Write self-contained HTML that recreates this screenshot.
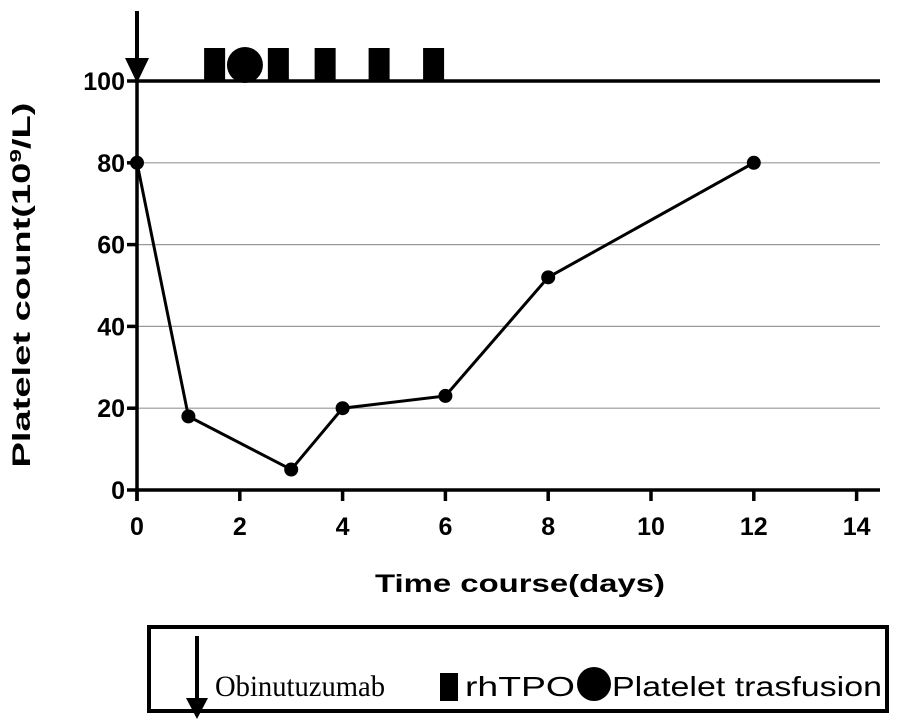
<!DOCTYPE html>
<html><head><meta charset="utf-8"><style>
body{margin:0;background:#fff}
svg{display:block;font-family:"Liberation Sans",Arial,sans-serif}
</style></head><body>
<svg width="915" height="721" viewBox="0 0 915 721">
<g id="grid"></g>
<g id="axes"></g>
<g id="series"></g>
<g id="events"></g>
<text x="30" y="285" transform="rotate(-90 30 285)" text-anchor="middle" font-size="25" font-weight="bold" textLength="365" lengthAdjust="spacingAndGlyphs">Platelet count(10<tspan dy="-9" font-size="16">9</tspan><tspan dy="9">/L)</tspan></text>
<text x="520" y="592" text-anchor="middle" font-size="25" font-weight="bold" textLength="290" lengthAdjust="spacingAndGlyphs">Time course(days)</text>
<g>
<rect x="149" y="627" width="738" height="84" fill="none" stroke="#000" stroke-width="4"/>
<g>
<line x1="197" y1="636" x2="197" y2="700" stroke="#000" stroke-width="4"/>
<polygon points="186,698 208,698 197,719" fill="#000"/>
<text x="215" y="696" font-family="Liberation Serif,serif" font-size="30" textLength="170" lengthAdjust="spacingAndGlyphs">Obinutuzumab</text></g>
<g>
<rect x="440" y="673" width="18" height="28" fill="#000"/>
<text x="465" y="696" font-size="28" textLength="110" lengthAdjust="spacingAndGlyphs">rhTPO</text></g>
<g>
<circle cx="594" cy="684" r="17" fill="#000"/>
<text x="612" y="696" font-size="28" textLength="270" lengthAdjust="spacingAndGlyphs">Platelet trasfusion</text></g>
</g>
</svg>
<script>
const days=[0,1,3,4,6,8,12];
const counts=[80,18,5,20,23,52,80];
const xTicks=[0,2,4,6,8,10,12,14];
const yTicks=[0,20,40,60,80,100];
const rhTPODays=[1.52,2.76,3.67,4.72,5.78];
const transfusionDays=[2.1];
const obinutuzumabDays=[0];
const NS="http://www.w3.org/2000/svg";
const X=d=>137+d*51.4, Y=v=>490-v*4.09;
function mk(p,t,a){const e=document.createElementNS(NS,t);for(const k in a)e.setAttribute(k,a[k]);document.getElementById(p).appendChild(e);return e;}
yTicks.forEach(v=>{
 if(v>0&&v<100){const g=mk('grid','line',{x1:X(0),x2:880,y1:Y(v),y2:Y(v),stroke:'#999','stroke-width':1.2});
 
 }
 const t=mk('axes','line',{x1:X(0)-10,x2:X(0),y1:Y(v),y2:Y(v),stroke:'#000','stroke-width':3.5});
 
 
 const l=mk('axes','text',{x:X(0)-12,y:Y(v)+9,'text-anchor':'end','font-size':25,'font-weight':'bold'});l.textContent=v;
 
 
});
const topLine=mk('axes','line',{x1:X(0),x2:880,y1:Y(100),y2:Y(100),stroke:'#000','stroke-width':3.5});


xTicks.forEach(d=>{
 const t=mk('axes','line',{x1:X(d),x2:X(d),y1:Y(0),y2:Y(0)+11,stroke:'#000','stroke-width':3.5});
 
 
 const l=mk('axes','text',{x:X(d),y:Y(0)+45,'text-anchor':'middle','font-size':25,'font-weight':'bold'});l.textContent=d;
 
 
});
const ya=mk('axes','line',{x1:X(0),x2:X(0),y1:Y(100)-10,y2:Y(0)+11,stroke:'#000','stroke-width':3.5});


const xa=mk('axes','line',{x1:X(0),x2:880,y1:Y(0),y2:Y(0),stroke:'#000','stroke-width':3.5});


const pl=mk('series','polyline',{points:days.map((d,i)=>X(d)+','+Y(counts[i])).join(' '),fill:'none',stroke:'#000','stroke-width':3});


days.forEach((d,i)=>{const c=mk('series','circle',{cx:X(d),cy:Y(counts[i]),r:7,fill:'#000'});
 
 });
rhTPODays.forEach(d=>{const r=mk('events','rect',{x:X(d)-11,y:Y(100)-33,width:21,height:33,fill:'#000'});
 
 });
transfusionDays.forEach(d=>{const c=mk('events','circle',{cx:X(d),cy:Y(100)-16,r:18,fill:'#000'});
 
 });
obinutuzumabDays.forEach(d=>{
 const l=mk('events','line',{x1:X(d),x2:X(d),y1:11,y2:62,stroke:'#000','stroke-width':4});
 
 
 const p=mk('events','polygon',{points:(X(d)-12)+',58 '+(X(d)+12)+',58 '+X(d)+','+(Y(100)+2),fill:'#000'});
 
 });
</script>
</body></html>
